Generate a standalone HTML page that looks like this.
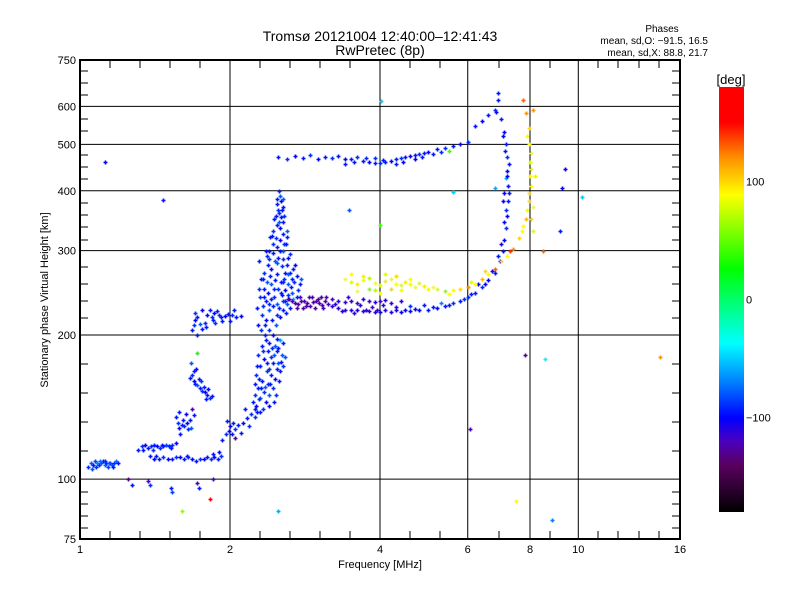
<!DOCTYPE html>
<html><head><meta charset="utf-8"><style>
body{margin:0;background:#fff;}
svg{display:block;font-family:"Liberation Sans",sans-serif;}
</style></head><body>
<svg id="chart" width="800" height="600" xmlns="http://www.w3.org/2000/svg">
<defs><linearGradient id="cbar" x1="0" y1="0" x2="0" y2="1">
<stop offset="0" stop-color="#ff0000"/><stop offset="0.083" stop-color="#ff0000"/>
<stop offset="0.167" stop-color="#ff9000"/><stop offset="0.253" stop-color="#ffff00"/>
<stop offset="0.428" stop-color="#00ff00"/><stop offset="0.603" stop-color="#00ffff"/>
<stop offset="0.694" stop-color="#0080ff"/><stop offset="0.778" stop-color="#0000ff"/>
<stop offset="0.833" stop-color="#4a00c0"/><stop offset="0.889" stop-color="#5a0060"/>
<stop offset="1" stop-color="#000000"/></linearGradient></defs>
<text x="380" y="41" font-size="14" text-anchor="middle">Tromsø 20121004 12:40:00–12:41:43</text>
<text x="380" y="55" font-size="14" text-anchor="middle">RwPretec (8p)</text>
<text x="662" y="32" font-size="10" text-anchor="middle">Phases</text>
<text x="708" y="44" font-size="10" text-anchor="end">mean, sd,O: −91.5, 16.5</text>
<text x="708" y="56" font-size="10" text-anchor="end">mean, sd,X:  88.8, 21.7</text>
<g id="grid"></g>
<g id="points"></g>
<rect x="80" y="60" width="600" height="479" fill="none" stroke="#000" stroke-width="2"/>
<g id="axes"></g>
<text x="380" y="568" font-size="11" text-anchor="middle">Frequency [MHz]</text>
<text x="0" y="0" font-size="11" text-anchor="middle" transform="translate(48,300) rotate(-90)">Stationary phase Virtual Height [km]</text>
<rect x="719" y="87" width="25" height="425" fill="url(#cbar)"/>
<text x="731" y="84" font-size="13" text-anchor="middle">[deg]</text>
<g id="cbticks"></g>
</svg>
<script>
const NS="http://www.w3.org/2000/svg";
const xTickValues=[1,2,4,6,8,10,16];
const yTickValues=[75,100,200,300,400,500,600,750];
const xGridValues=[2,4,6,8,10];
const yGridValues=[100,200,300,400,500,600];
const cbTickValues=[100,0,-100];
// echo traces: [frequency MHz, virtual height km, phase deg]
const traceLowA=[[1.04,106,-90],[1.05,108,-80],[1.06,107,-95],[1.07,109,-85],[1.08,108,-70],[1.09,107,-90],[1.10,108,-80],[1.11,109,-95],[1.12,107,-75],[1.13,108,-90],[1.14,106,-85],[1.15,108,-95],[1.16,107,-80],[1.17,108,-90],[1.18,109,-75],[1.19,108,-95],[1.055,105,-80],[1.075,106,-90],[1.095,109,-75],[1.125,109,-90],[1.145,108,-80],[1.165,106,-95]];
const traceLowB=[[1.31,115,-95],[1.33,117,-90],[1.35,118,-100],[1.37,116,-95],[1.39,117,-90],[1.41,118,-95],[1.43,117,-100],[1.45,116,-90],[1.47,117,-95],[1.49,118,-85],[1.51,117,-95],[1.53,118,-90],[1.56,119,-100],[1.34,115,-95],[1.40,115,-90],[1.46,118,-95],[1.52,116,-95]];
const traceLowC=[[1.38,112,-95],[1.41,110,-100],[1.44,110,-95],[1.47,111,-90],[1.50,110,-100],[1.53,110,-95],[1.56,111,-90],[1.59,111,-100],[1.62,110,-95],[1.65,111,-90],[1.68,110,-100],[1.71,109,-95],[1.74,110,-90],[1.77,110,-100],[1.80,111,-95],[1.83,110,-90],[1.86,111,-100],[1.89,110,-95],[1.92,112,-90],[1.85,113,-95],[1.90,114,-100],[1.42,112,-95],[1.64,112,-95]];
const traceScatter=[[1.25,100,-130],[1.27,97,-95],[1.37,99,-120],[1.38,97,-90],[1.52,96,-95],[1.53,94,-85],[1.72,98,-120],[1.73,96,-95],[1.85,100,-120],[1.60,86,60],[1.82,91,170],[2.5,86,-60],[1.12,460,-100],[1.47,383,-95],[4.02,617,-50],[3.46,365,-80],[4.0,340,40],[6.06,127,-120],[7.83,182,-130],[8.57,178,-40],[8.86,82,-70],[14.6,180,120],[10.15,388,-50],[9.26,405,-100],[9.4,445,-100],[8.1,590,120],[7.5,90,90],[8.5,300,130],[9.2,330,-95],[8.2,430,80],[5.6,398,-50],[6.9,640,-95],[6.8,405,-60],[1.72,183,30],[2.4,170,70]];
const traceClusterD=[[1.56,135,-95],[1.57,131,-90],[1.58,128,-100],[1.60,130,-95],[1.62,129,-90],[1.64,131,-100],[1.66,133,-95],[1.68,140,-120],[1.69,136,-95],[1.67,128,-80],[1.59,124,-95],[1.63,137,-100],[1.61,133,-95],[1.65,127,-90],[1.58,138,-95]];
const traceClusterE=[[1.66,163,-95],[1.68,165,-90],[1.69,160,-100],[1.70,158,-95],[1.72,157,-80],[1.74,155,-95],[1.76,153,-90],[1.78,152,-100],[1.80,150,-95],[1.82,148,-90],[1.71,170,-100],[1.73,162,-95],[1.67,175,-80],[1.77,156,-95],[1.81,154,-100],[1.84,149,-95],[1.75,160,-90],[1.79,147,-95],[1.69,168,-95]];
const traceClusterF=[[1.68,205,-95],[1.69,210,-90],[1.70,215,-100],[1.72,218,-95],[1.74,211,-80],[1.76,206,-95],[1.78,212,-90],[1.80,220,-100],[1.82,226,-95],[1.84,218,-90],[1.86,222,-100],[1.88,224,-95],[1.90,220,-90],[1.92,218,-95],[1.95,219,-100],[1.98,221,-95],[2.02,220,-90],[2.06,218,-95],[2.10,219,-100],[1.72,200,-95],[1.76,225,-100],[1.85,215,-95],[1.70,222,-90],[1.79,208,-95],[2.00,214,-95],[1.93,214,-95],[2.04,225,-95],[1.87,212,-90]];
const traceG=[[1.93,121,-95],[1.96,124,-90],[1.99,126,-100],[2.02,124,-95],[2.05,127,-90],[2.08,130,-95],[2.12,131,-100],[2.16,134,-95],[2.20,137,-90],[1.97,132,-95],[2.00,129,-100],[2.05,122,-130],[2.10,125,-95],[2.14,140,-95],[2.03,131,-95],[2.18,129,-90]];
const traceSpike=[[2.22,145,-95],[2.24,150,-90],[2.26,142,-100],[2.28,155,-95],[2.30,148,-80],[2.32,160,-95],[2.34,152,-90],[2.36,145,-100],[2.38,158,-95],[2.40,150,-80],[2.42,165,-95],[2.44,155,-90],[2.46,162,-100],[2.48,170,-95],[2.50,175,-80],[2.52,168,-95],[2.26,165,-90],[2.30,172,-95],[2.34,178,-100],[2.38,185,-95],[2.42,180,-90],[2.46,190,-80],[2.50,188,-95],[2.28,182,-90],[2.36,195,-95],[2.44,200,-100],[2.32,190,-95],[2.40,170,-90],[2.48,185,-95],[2.54,182,-80],[2.56,192,-95],[2.27,138,-95],[2.33,140,-90],[2.39,142,-100],[2.45,145,-95],[2.29,162,-95],[2.37,168,-90],[2.44,175,-95],[2.52,195,-60],[2.58,180,-80],[2.25,158,-95],[2.35,200,-95],[2.31,205,-90],
[2.28,210,-95],[2.32,220,-90],[2.36,215,-100],[2.40,225,-80],[2.44,230,-95],[2.48,220,-90],[2.52,218,-100],[2.56,226,-95],[2.60,232,-80],[2.64,228,-95],[2.30,240,-90],[2.34,250,-95],[2.38,245,-100],[2.42,255,-80],[2.46,260,-95],[2.50,250,-90],[2.54,242,-95],[2.58,248,-100],[2.62,255,-80],[2.66,262,-95],[2.34,270,-90],[2.38,280,-95],[2.42,275,-100],[2.46,285,-80],[2.50,290,-95],[2.54,278,-90],[2.58,270,-95],[2.62,290,-100],[2.40,300,-95],[2.44,310,-90],[2.48,305,-95],[2.52,315,-100],[2.56,300,-80],[2.60,320,-95],[2.44,330,-90],[2.48,340,-95],[2.52,335,-100],[2.56,345,-95],[2.60,330,-80],[2.47,355,-95],[2.51,360,-90],[2.55,370,-95],[2.53,380,-100],[2.49,375,-95],[2.52,390,-80],[2.54,365,-95],[2.36,235,-95],[2.45,240,-90],[2.66,245,-80],[2.70,280,-100],[2.72,240,-95],[2.27,228,-95],[2.31,262,-95],[2.37,292,-90],[2.41,320,-95],[2.56,258,-90],[2.64,270,-95],[2.68,238,-60],[2.58,236,-95],[2.48,232,-80],[2.42,238,-95],[2.33,230,-90],[2.29,285,-95],[2.45,350,-95],[2.57,310,-90]];
const traceSpikeExtra=[[2.24,140,-95],[2.29,147,-90],[2.35,156,-80],[2.41,158,-95],[2.47,150,-90],[2.53,176,-95],[2.27,172,-95],[2.33,185,-90],[2.39,192,-95],[2.45,182,-80],[2.51,160,-95],[2.55,172,-90],[2.31,155,-95],[2.37,175,-95],[2.43,188,-90],[2.49,196,-95],[2.25,135,-90],[2.30,138,-95],[2.35,210,-95],[2.39,205,-90],[2.43,215,-95],[2.47,210,-80],[2.51,228,-95],[2.55,235,-90],[2.59,222,-95],[2.63,238,-95],[2.29,250,-90],[2.33,262,-95],[2.37,258,-80],[2.41,265,-95],[2.45,250,-90],[2.49,268,-95],[2.53,258,-95],[2.57,262,-90],[2.61,268,-80],[2.65,252,-95],[2.69,258,-90],[2.73,265,-95],[2.36,300,-95],[2.40,288,-90],[2.44,296,-95],[2.48,282,-80],[2.52,300,-95],[2.56,288,-90],[2.60,280,-95],[2.64,295,-90],[2.43,322,-95],[2.47,318,-90],[2.51,345,-80],[2.55,325,-95],[2.59,310,-95],[2.50,365,-90],[2.53,352,-95],[2.57,355,-90],[2.49,385,-95],[2.55,385,-80],[2.51,400,-95],[2.76,255,-95],[2.74,248,-90],[2.78,262,-80],[2.67,275,-95],[2.34,240,-95],[2.39,232,-90],[2.53,245,-95],[2.61,242,-90]];
const traceLedge=[[2.62,238,-130],[2.66,236,-120],[2.70,233,-130],[2.74,232,-125],[2.78,235,-130],[2.82,236,-120],[2.86,233,-130],[2.90,230,-125],[2.94,234,-130],[2.98,236,-120],[3.02,233,-130],[3.06,231,-125],[3.10,235,-130],[3.14,232,-120],[2.80,228,-130],[2.88,240,-120],[2.96,228,-130],[3.04,240,-125],[2.72,228,-130],[2.92,240,-125],[2.76,240,-120],[2.84,230,-125],[3.00,238,-130],[3.08,228,-120],[3.12,240,-125]];
const traceF2O=[[3.2,230,-110],[3.3,228,-110],[3.4,226,-115],[3.5,225,-110],[3.6,225,-105],[3.7,224,-110],[3.8,224,-115],[3.9,223,-110],[4.0,223,-105],[4.2,223,-110],[4.4,223,-100],[4.6,224,-105],[4.8,225,-100],[5.0,226,-95],[5.2,228,-100],[5.4,230,-95],[5.6,233,-90],[5.8,236,-95],[6.0,240,-90],[6.2,245,-95],[6.4,252,-90],[6.6,260,-100],[6.8,270,-95],[6.95,285,-100],[7.05,300,-95],[7.1,315,-100],[7.15,335,-90],[7.2,355,-100],[7.22,380,-95],[7.22,410,-95],[7.2,440,-100],[7.18,470,-90],[7.15,500,-95],[7.1,530,-100],[7.0,565,-95],[6.85,585,-100],[3.2,238,-120],[3.3,236,-110],[3.4,234,-115],[3.5,236,-110],[3.6,233,-120],[3.7,238,-110],[3.8,235,-115],[3.9,234,-110],[4.0,236,-120],[4.1,237,-110],[4.2,233,-115],[4.4,235,-110],[3.25,232,-110],[3.45,240,-115],[3.65,231,-110],[3.85,229,-120],[4.05,231,-110],[4.3,229,-115],[4.6,230,-90],[4.9,231,-95],[5.3,233,-70],[6.3,255,-100],[6.7,272,-110],[6.9,292,-95],[7.0,310,-110],[7.1,345,-100],[7.15,365,-90],[7.1,395,-100],[7.15,425,-60],[7.25,455,-95],[7.05,380,-100],[3.35,224,-110],[3.55,222,-115],[3.75,226,-110],[3.95,226,-115],[4.1,225,-110],[4.3,225,-105],[4.5,226,-100],[4.7,227,-100],[5.1,229,-95],[5.5,231,-95],[5.9,238,-90],[6.1,243,-95],[6.5,256,-100],[7.25,395,-95],[7.2,430,-100],[7.12,485,-95],[7.05,520,-100]];
const traceF2X=[[3.4,262,90],[3.5,258,80],[3.6,255,95],[3.7,260,85],[3.8,263,70],[3.9,257,90],[4.0,254,80],[4.1,259,95],[4.2,262,85],[4.3,256,90],[4.4,254,80],[4.5,258,95],[4.6,255,85],[4.7,252,90],[4.8,257,80],[4.9,253,95],[5.0,250,85],[5.1,252,90],[5.2,249,80],[5.4,247,60],[5.6,248,90],[5.8,250,100],[6.0,252,120],[6.2,256,90],[6.4,262,110],[6.6,268,90],[6.8,275,130],[7.0,285,100],[7.2,293,90],[7.4,303,120],[7.6,318,100],[7.75,338,90],[7.9,365,85],[7.98,395,100],[8.0,430,90],[8.0,460,80],[7.98,500,90],[7.95,540,100],[7.85,580,120],[7.75,620,130],[3.6,247,90],[3.8,250,60],[4.0,245,90],[4.2,250,100],[4.4,248,85],[3.5,268,90],[3.7,265,95],[4.1,268,80],[4.3,265,100],[4.6,262,90],[3.9,248,70],[5.5,244,90],[6.1,258,80],[6.5,272,100],[7.3,300,140],[7.7,330,90],[7.85,350,110],[8.05,410,90],[8.05,445,95],[8.02,480,85],[7.95,380,100],[8.1,370,90],[8.1,330,80],[7.9,520,90],[8.05,350,100]];
const traceF2Upper=[[2.5,470,-95],[2.6,465,-90],[2.7,472,-100],[2.8,468,-95],[2.9,475,-90],[3.0,465,-100],[3.1,470,-95],[3.2,468,-90],[3.3,472,-95],[3.4,466,-100],[3.5,465,-95],[3.6,470,-90],[3.7,462,-95],[3.8,460,-100],[3.9,458,-95],[4.0,457,-90],[4.1,460,-95],[4.2,462,-100],[4.3,465,-95],[4.4,468,-90],[4.5,470,-95],[4.6,472,-100],[4.7,475,-95],[4.8,478,-90],[4.9,480,-95],[5.0,483,-100],[5.2,488,-95],[5.4,492,-90],[5.6,497,-95],[5.8,502,-100],[6.0,505,-90],[3.4,455,-95],[3.9,468,-90],[4.3,455,-95],[4.7,465,-100],[5.1,478,-95],[5.5,485,40],[6.2,545,-95],[6.4,560,-100],[6.6,575,-95],[6.8,590,-90],[6.9,620,-95],[3.55,460,-95],[3.75,468,-90],[4.05,463,-95],[4.45,460,-100],[4.85,470,-95],[5.3,483,-90]];
const allTraces=[traceLowA,traceLowB,traceLowC,traceScatter,traceClusterD,traceClusterE,traceClusterF,traceG,traceSpike,traceSpikeExtra,traceLedge,traceF2O,traceF2X,traceF2Upper];

const xScale=f=>80+150*Math.log2(f);
const yScale=h=>539-479*Math.log10(h/75);
const cbScale=p=>87+(180-p)/360*425;
const cStops=[[-180,[0,0,0]],[-140,[90,0,96]],[-120,[74,0,192]],[-100,[0,0,255]],[-70,[0,128,255]],[-37,[0,255,255]],[26,[0,255,0]],[89,[255,255,0]],[120,[255,144,0]],[150,[255,0,0]],[180,[255,0,0]]];
function phaseColor(p){
  for(let i=0;i<cStops.length-1;i++){const a=cStops[i],b=cStops[i+1];
    if(p<=b[0]){const t=Math.max(0,(p-a[0])/(b[0]-a[0]));
      return 'rgb('+a[1].map((v,k)=>Math.round(v+(b[1][k]-v)*t)).join(',')+')';}}
  return 'rgb(255,0,0)';
}
function mk(tag,attrs,parent){const e=document.createElementNS(NS,tag);for(const k in attrs)e.setAttribute(k,attrs[k]);parent.appendChild(e);return e;}
const grid=document.getElementById('grid'),axes=document.getElementById('axes'),pts=document.getElementById('points'),cbt=document.getElementById('cbticks');
xGridValues.forEach(v=>{const l=mk('line',{x1:xScale(v),x2:xScale(v),y1:60,y2:539,stroke:'#000','stroke-width':1},grid);
  
  });
yGridValues.forEach(v=>{const l=mk('line',{x1:80,x2:680,y1:yScale(v),y2:yScale(v),stroke:'#000','stroke-width':1},grid);
  
  });
const xMinorPx=[110,140,170,200,260,290,320,350,410,440,499,550,598,618,639,659];
xMinorPx.forEach(x=>{mk('line',{x1:x,x2:x,y1:539,y2:531,stroke:'#000'},axes);mk('line',{x1:x,x2:x,y1:60,y2:68,stroke:'#000'},axes);});
const yMinorPx=[492,504,516,528,364,393,422,451,318,301,284,267,240,227,215,203,179,167,155,131,119,95,83,71];
yMinorPx.forEach(y=>{mk('line',{x1:80,x2:88,y1:y,y2:y,stroke:'#000'},axes);mk('line',{x1:672,x2:680,y1:y,y2:y,stroke:'#000'},axes);});
xTickValues.forEach(v=>{const t=mk('text',{x:xScale(v),y:553,'font-size':11,'text-anchor':'middle'},axes);t.textContent=v;
  
  });
yTickValues.forEach(v=>{const t=mk('text',{x:76,y:yScale(v)+4,'font-size':11,'text-anchor':'end'},axes);t.textContent=v;
  
  });
cbTickValues.forEach(v=>{const t=mk('text',{x:746,y:cbScale(v)+4,'font-size':11},cbt);t.textContent=v<0?'−'+(-v):v;
  
  });
allTraces.forEach(tr=>tr.forEach(([f,h,p])=>{
  const x=Math.round(xScale(f))+0.5,y=Math.round(yScale(h))+0.5;
  const e=mk('path',{d:`M${x-2} ${y}H${x+2}M${x} ${y-2}V${y+2}`,stroke:phaseColor(p),'stroke-width':1.6},pts);
  
  
}));
</script>
</body></html>
